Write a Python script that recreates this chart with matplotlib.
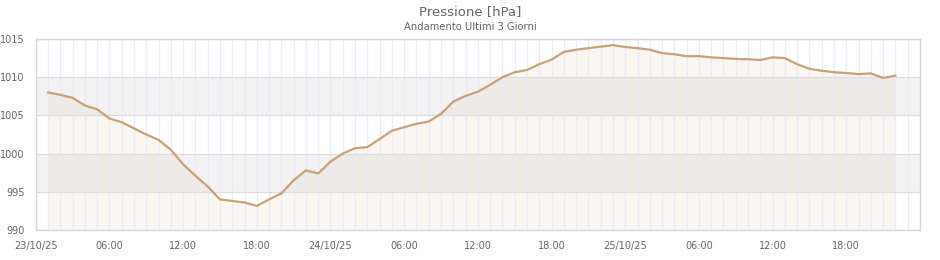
import matplotlib
matplotlib.use("Agg")
from matplotlib import pyplot as plt
import numpy as np

# hours since 23/10/25 00:00, one reading per hour
hours = list(range(1, 71))
pressure = [
    1008.0, 1007.7, 1007.3, 1006.3, 1005.8, 1004.6, 1004.1, 1003.3, 1002.5, 1001.8,
    1000.5, 998.6, 997.1, 995.7, 994.0, 993.8, 993.6, 993.15, 994.0, 994.8,
    996.5, 997.8, 997.4, 998.95, 1000.0, 1000.7, 1000.85, 1001.9, 1003.0, 1003.45,
    1003.9, 1004.2, 1005.2, 1006.8, 1007.55, 1008.1, 1009.0, 1010.0, 1010.65, 1010.95,
    1011.7, 1012.3, 1013.3, 1013.6, 1013.8, 1014.0, 1014.2, 1013.95, 1013.8, 1013.6,
    1013.15, 1013.0, 1012.75, 1012.75, 1012.6, 1012.5, 1012.4, 1012.35, 1012.25, 1012.6,
    1012.5, 1011.7, 1011.1, 1010.85, 1010.65, 1010.55, 1010.4, 1010.5, 1009.9, 1010.2,
]
tick_hours = list(range(0, 72, 6))
tick_labels = ["23/10/25", "06:00", "12:00", "18:00",
               "24/10/25", "06:00", "12:00", "18:00",
               "25/10/25", "06:00", "12:00", "18:00"]
bands = [(995, 1000), (1005, 1010)]

line_col = "#c8a274"
text_col = "#666666"

fig = plt.figure(figsize=(9.4, 2.6), dpi=100)
ax = fig.add_axes([0.038, 0.1154, 0.9407, 0.7346])

for lo, hi in bands:
    ax.axhspan(lo, hi, color="#f2f2f2", zorder=0, lw=0)

ax.fill_between(hours, pressure, 990, color=line_col, alpha=0.09, lw=0, zorder=1)
ax.plot(hours, pressure, color=line_col, lw=1.6, zorder=3)

ax.set_xlim(0, 72)
ax.set_ylim(990, 1015)
ax.set_xticks(tick_hours)
ax.set_xticklabels(tick_labels)
ax.set_xticks(range(1, 72), minor=True)
ax.set_yticks(range(990, 1016, 5))

ax.grid(axis="x", which="both", color="#eaeaf8", lw=0.9)
ax.grid(axis="y", which="major", color="#dddddd", lw=0.9)
for ln in ax.get_xgridlines() + ax.get_ygridlines():
    ln.set_zorder(2)
for ln in ax.xaxis.get_minorticklines():
    pass

ax.tick_params(which="both", length=0, labelsize=7.0, colors=text_col)
ax.tick_params(axis="y", pad=8)
ax.tick_params(axis="x", pad=8)
for s in ax.spines.values():
    s.set_color("#d6d6d6")
    s.set_linewidth(1)

fig.text(0.5, 0.957, "Pressione [hPa]", ha="center", va="center",
         fontsize=9.5, color=text_col)
fig.text(0.5, 0.895, "Andamento Ultimi 3 Giorni", ha="center", va="center",
         fontsize=7.2, color=text_col)

fig.savefig("out.png", dpi=100)
